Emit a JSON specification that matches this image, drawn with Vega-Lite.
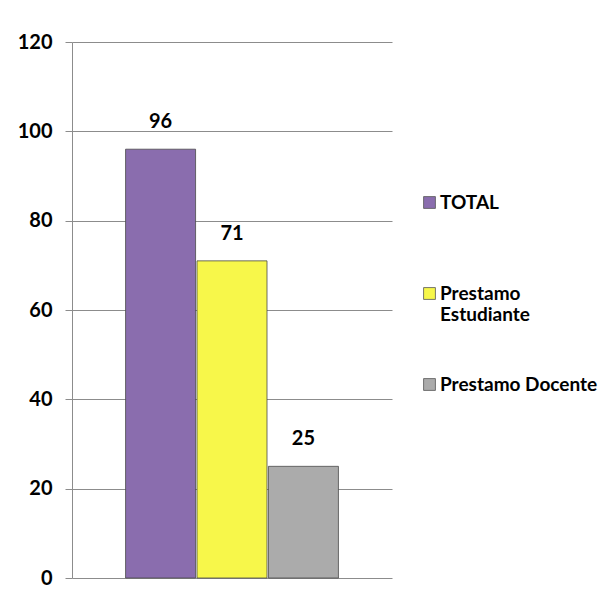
{
  "$schema": "https://vega.github.io/schema/vega-lite/v6.json",
  "autosize": "none",
  "width": 320,
  "height": 536,
  "padding": {"left": 72, "top": 42, "right": 222, "bottom": 26},
  "background": "white",
  "config": {
    "view": {"stroke": null},
    "font": "Lato, sans-serif"
  },
  "data": {
    "values": [
      {"serie": "TOTAL", "valor": 96},
      {"serie": "Prestamo Estudiante", "valor": 71},
      {"serie": "Prestamo Docente", "valor": 25}
    ]
  },
  "encoding": {
    "x": {
      "field": "serie",
      "type": "nominal",
      "sort": ["TOTAL", "Prestamo Estudiante", "Prestamo Docente"],
      "scale": {"paddingInner": 0.02, "paddingOuter": 0.75},
      "axis": null
    },
    "y": {
      "field": "valor",
      "type": "quantitative",
      "scale": {"domain": [0, 120], "nice": false},
      "axis": {
        "values": [0, 20, 40, 60, 80, 100, 120],
        "title": null,
        "grid": true,
        "gridColor": "#8c8c8c",
        "gridWidth": 1,
        "domainColor": "#8c8c8c",
        "tickColor": "#8c8c8c",
        "tickSize": 7,
        "labelPadding": 13,
        "labelFont": "Lato, sans-serif",
        "labelFontSize": 20,
        "labelFontWeight": "bold",
        "labelColor": "black"
      }
    }
  },
  "layer": [
    {
      "mark": {"type": "bar", "stroke": "#4a4a4a", "strokeWidth": 0.8},
      "encoding": {
        "color": {
          "field": "serie",
          "type": "nominal",
          "sort": ["TOTAL", "Prestamo Estudiante", "Prestamo Docente"],
          "scale": {
            "domain": ["TOTAL", "Prestamo Estudiante", "Prestamo Docente"],
            "range": ["#8a6dae", "#f7f74a", "#ababab"]
          },
          "legend": {
            "title": null,
            "orient": "none",
            "legendX": 348,
            "legendY": 151,
            "gridAlign": "all",
            "symbolType": "square",
            "symbolSize": 140,
            "symbolStrokeColor": "#555555",
            "symbolStrokeWidth": 0.8,
            "labelFont": "Lato, sans-serif",
            "labelFontSize": 19,
            "labelFontWeight": "bold",
            "labelColor": "black",
            "labelOffset": 1,
            "labelLimit": 300,
            "rowPadding": 50,
            "labelExpr": "datum.label == 'Prestamo Estudiante' ? ['Prestamo', 'Estudiante'] : datum.label"
          }
        }
      }
    },
    {
      "mark": {
        "type": "text",
        "dy": -27,
        "baseline": "middle",
        "fontSize": 20,
        "fontWeight": "bold",
        "color": "black",
        "font": "Lato, sans-serif"
      },
      "encoding": {"text": {"field": "valor", "type": "quantitative"}}
    }
  ]
}
